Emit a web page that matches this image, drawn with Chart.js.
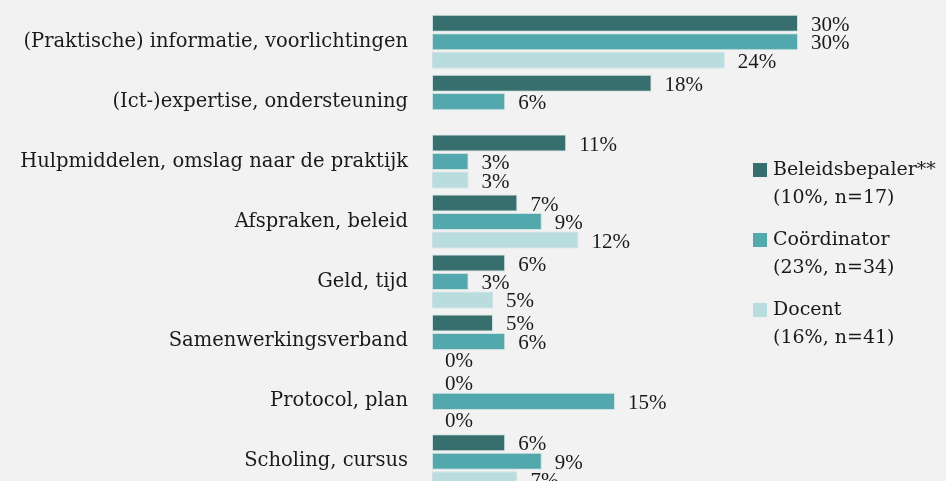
<!DOCTYPE html>
<html>
<head>
<meta charset="utf-8">
<script src="https://cdn.jsdelivr.net/npm/chart.js@4"></script>
<style>
  html, body { margin: 0; padding: 0; background: #f2f2f2; overflow: hidden; }
  #clip { width: 946px; height: 481px; overflow: hidden; }
  #wrap { position: relative; width: 946px; height: 551px; margin-top: -24px; }
</style>
</head>
<body>
<div id="clip"><div id="wrap"><canvas id="chart"></canvas></div></div>
<script>
const categories = [
    '(Praktische) informatie, voorlichtingen',
    '(Ict-)expertise, ondersteuning',
    'Hulpmiddelen, omslag naar de praktijk',
    'Afspraken, beleid',
    'Geld, tijd',
    'Samenwerkingsverband',
    'Protocol, plan',
    'Scholing, cursus',
];
const beleidsbepaler = [30, 18, 11, 7, 6, 5, 0, 6];
const coordinator = [30, 6, 3, 9, 3, 6, 15, 9];
const docent = [24, null, 3, 12, 5, 0, 0, 7];

const seriesLabels = [
    ['Beleidsbepaler**', '(10%, n=17)'],
    ['Coördinator', '(23%, n=34)'],
    ['Docent', '(16%, n=41)'],
];
const seriesColors = ['#376f6f', '#52a8ad', '#b9dcdf'];

const LABEL_FONT = '"DejaVu Serif", serif';
const VALUE_FONT = '"Liberation Serif", serif';

// value labels next to each bar
const barValues = {
    id: 'barValues',
    afterDatasetsDraw(chart) {
        const ctx = chart.ctx;
        ctx.save();
        ctx.font = `21px ${VALUE_FONT}`;
        ctx.fillStyle = '#1a1a1a';
        ctx.textAlign = 'left';
        ctx.textBaseline = 'middle';
        chart.data.datasets.forEach((ds, i) => {
            chart.getDatasetMeta(i).data.forEach((bar, j) => {
                const v = ds.data[j];
                if (v === null) return;
                ctx.fillText(v + '%', bar.x + 13, bar.y + 2);
            });
        });
        ctx.restore();
    }
};

// two-line legend on the right (canvas is shifted up 24px)
const sideLegend = {
    id: 'sideLegend',
    afterDraw(chart) {
        const ctx = chart.ctx;
        ctx.save();
        ctx.font = `19px ${LABEL_FONT}`;
        ctx.textAlign = 'left';
        ctx.textBaseline = 'middle';
        seriesLabels.forEach((lines, i) => {
            const y = 24 + 170 + i * 70;
            ctx.fillStyle = seriesColors[i];
            ctx.fillRect(753, y - 7, 14, 14);
            ctx.fillStyle = '#1a1a1a';
            lines.forEach((line, k) => ctx.fillText(line, 773, y + k * 28));
        });
        ctx.restore();
    }
};

const makeSet = (label, data, color) => ({
    label,
    data,
    backgroundColor: color,
    borderColor: 'rgba(200, 222, 222, 0.85)',
    borderWidth: 1,
    borderSkipped: false,
    barPercentage: 0.92,
    categoryPercentage: 0.925,
});

new Chart(document.getElementById('chart'), {
    type: 'bar',
    data: {
        labels: categories,
        datasets: [
            makeSet(seriesLabels[0][0], beleidsbepaler, seriesColors[0]),
            makeSet(seriesLabels[1][0], coordinator, seriesColors[1]),
            makeSet(seriesLabels[2][0], docent, seriesColors[2]),
        ],
    },
    options: {
        indexAxis: 'y',
        responsive: true,
        maintainAspectRatio: false,
        animation: false,
        layout: { padding: { left: 0, right: 26, top: 9, bottom: 10 } },
        plugins: {
            legend: { display: false },
            tooltip: { enabled: false },
        },
        scales: {
            x: {
                display: false,
                min: 0,
                max: 40,
            },
            y: {
                grid: { display: false, drawTicks: false },
                border: { display: false },
                ticks: {
                    padding: 24,
                    color: '#1a1a1a',
                    font: { family: LABEL_FONT, size: 19.5 },
                },
                afterFit(scale) { scale.width = 432; },
            },
        },
    },
    plugins: [barValues, sideLegend],
});
</script>
</body>
</html>
